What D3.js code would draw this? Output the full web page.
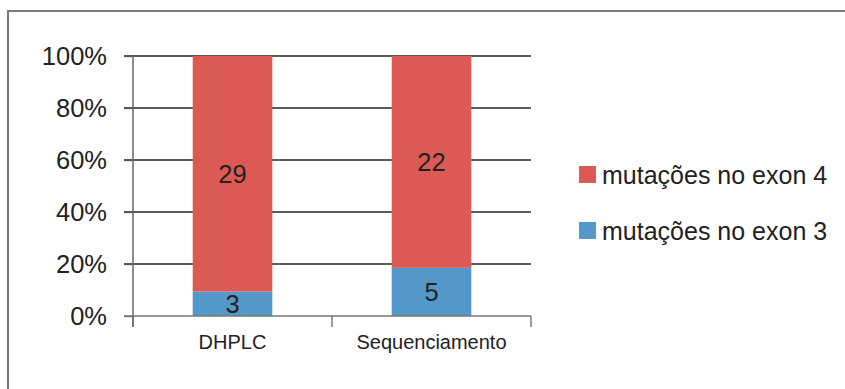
<!DOCTYPE html>
<html>
<head>
<meta charset="utf-8">
<script src="https://cdn.jsdelivr.net/npm/d3@7"></script>
<style>
  html, body { margin: 0; padding: 0; background: #fff; }
  svg { display: block; font-family: Arial, "Liberation Sans", sans-serif; }
</style>
</head>
<body>
<svg id="chart" width="845" height="389"></svg>
<script>
// Mutation counts per detection method, shown as 100% stacked columns
const categories = ["DHPLC", "Sequenciamento"];
const exon3 = [3, 5];
const exon4 = [29, 22];
const seriesNames = ["mutações no exon 3", "mutações no exon 4"];
const seriesColors = ["#5497C9", "#DC5A55"];
const yTicks = [0, 0.2, 0.4, 0.6, 0.8, 1];

const svg = d3.select("#chart");

// outer frame (right and bottom edges fall outside the view)
svg.append("path")
  .attr("d", "M8,900 L8,11 L900,11")
  .attr("fill", "none")
  .attr("stroke", "#7a7a7a")
  .attr("stroke-width", 2);

const x = d3.scaleBand().domain(categories).range([133, 531]).paddingInner(0.6).paddingOuter(0.3);
const y = d3.scaleLinear().domain([0, 1]).range([316, 56]);

// gridlines
svg.append("g")
  .selectAll("line")
  .data(yTicks.filter(d => d > 0))
  .join("line")
  .attr("x1", 124).attr("x2", 531)
  .attr("y1", d => y(d)).attr("y2", d => y(d))
  .attr("stroke", "#262626").attr("stroke-width", 1.3);

// y axis
const yAxis = d3.axisLeft(y).tickValues(yTicks).tickFormat(d3.format(".0%")).tickSize(9).tickPadding(17);
const gy = svg.append("g").attr("transform", "translate(133,0)").call(yAxis);
gy.select(".domain").remove();
gy.selectAll(".tick line").attr("stroke", "#555").attr("stroke-width", 1.3);
gy.selectAll(".tick text")
  .attr("fill", "#222").attr("font-size", 25.5)
  .attr("font-family", "Arial, 'Liberation Sans', sans-serif");
svg.append("line")
  .attr("x1", 133).attr("x2", 133).attr("y1", 56).attr("y2", 327)
  .attr("stroke", "#666").attr("stroke-width", 1.5);

// stacked data normalised to 100%
const rows = categories.map((c, i) => ({ cat: c, e3: exon3[i], e4: exon4[i], total: exon3[i] + exon4[i] }));
const stack = d3.stack().keys(["e3", "e4"]).offset(d3.stackOffsetExpand);
const stacked = stack(rows);

const bars = svg.append("g");
stacked.forEach((layer, li) => {
  bars.append("g").attr("fill", seriesColors[li])
    .selectAll("rect")
    .data(layer)
    .join("rect")
    .attr("x", d => x(d.data.cat))
    .attr("width", x.bandwidth())
    .attr("y", d => y(d[1]))
    .attr("height", d => y(d[0]) - y(d[1]));
  bars.append("g")
    .selectAll("text")
    .data(layer)
    .join("text")
    .attr("x", d => x(d.data.cat) + x.bandwidth() / 2)
    .attr("y", d => (y(d[0]) + y(d[1])) / 2)
    .attr("dy", "0.36em")
    .attr("text-anchor", "middle")
    .attr("font-size", 25.5)
    .attr("fill", "#222")
    .text(d => d.data[layer.key]);
});

// x axis
svg.append("line")
  .attr("x1", 124).attr("x2", 531).attr("y1", 316).attr("y2", 316)
  .attr("stroke", "#777").attr("stroke-width", 1.5);
const catEdges = [133, 332, 531];
svg.append("g").selectAll("line").data(catEdges).join("line")
  .attr("x1", d => d).attr("x2", d => d).attr("y1", 316).attr("y2", 327)
  .attr("stroke", "#666").attr("stroke-width", 1.3);
svg.append("g").selectAll("text").data(categories).join("text")
  .attr("x", d => x(d) + x.bandwidth() / 2)
  .attr("y", 349)
  .attr("text-anchor", "middle")
  .attr("font-size", 20)
  .attr("fill", "#222")
  .text(d => d);

// legend (exon 4 listed first)
const legendItems = [1, 0];
const lg = svg.append("g").selectAll("g").data(legendItems).join("g")
  .attr("transform", (d, i) => `translate(579,${166 + i * 56})`);
lg.append("rect").attr("width", 17).attr("height", 17).attr("fill", d => seriesColors[d]);
lg.append("text")
  .attr("x", 23).attr("y", 8.5).attr("dy", "0.36em")
  .attr("font-size", 25).attr("fill", "#222")
  .text(d => seriesNames[d]);
</script>
</body>
</html>
